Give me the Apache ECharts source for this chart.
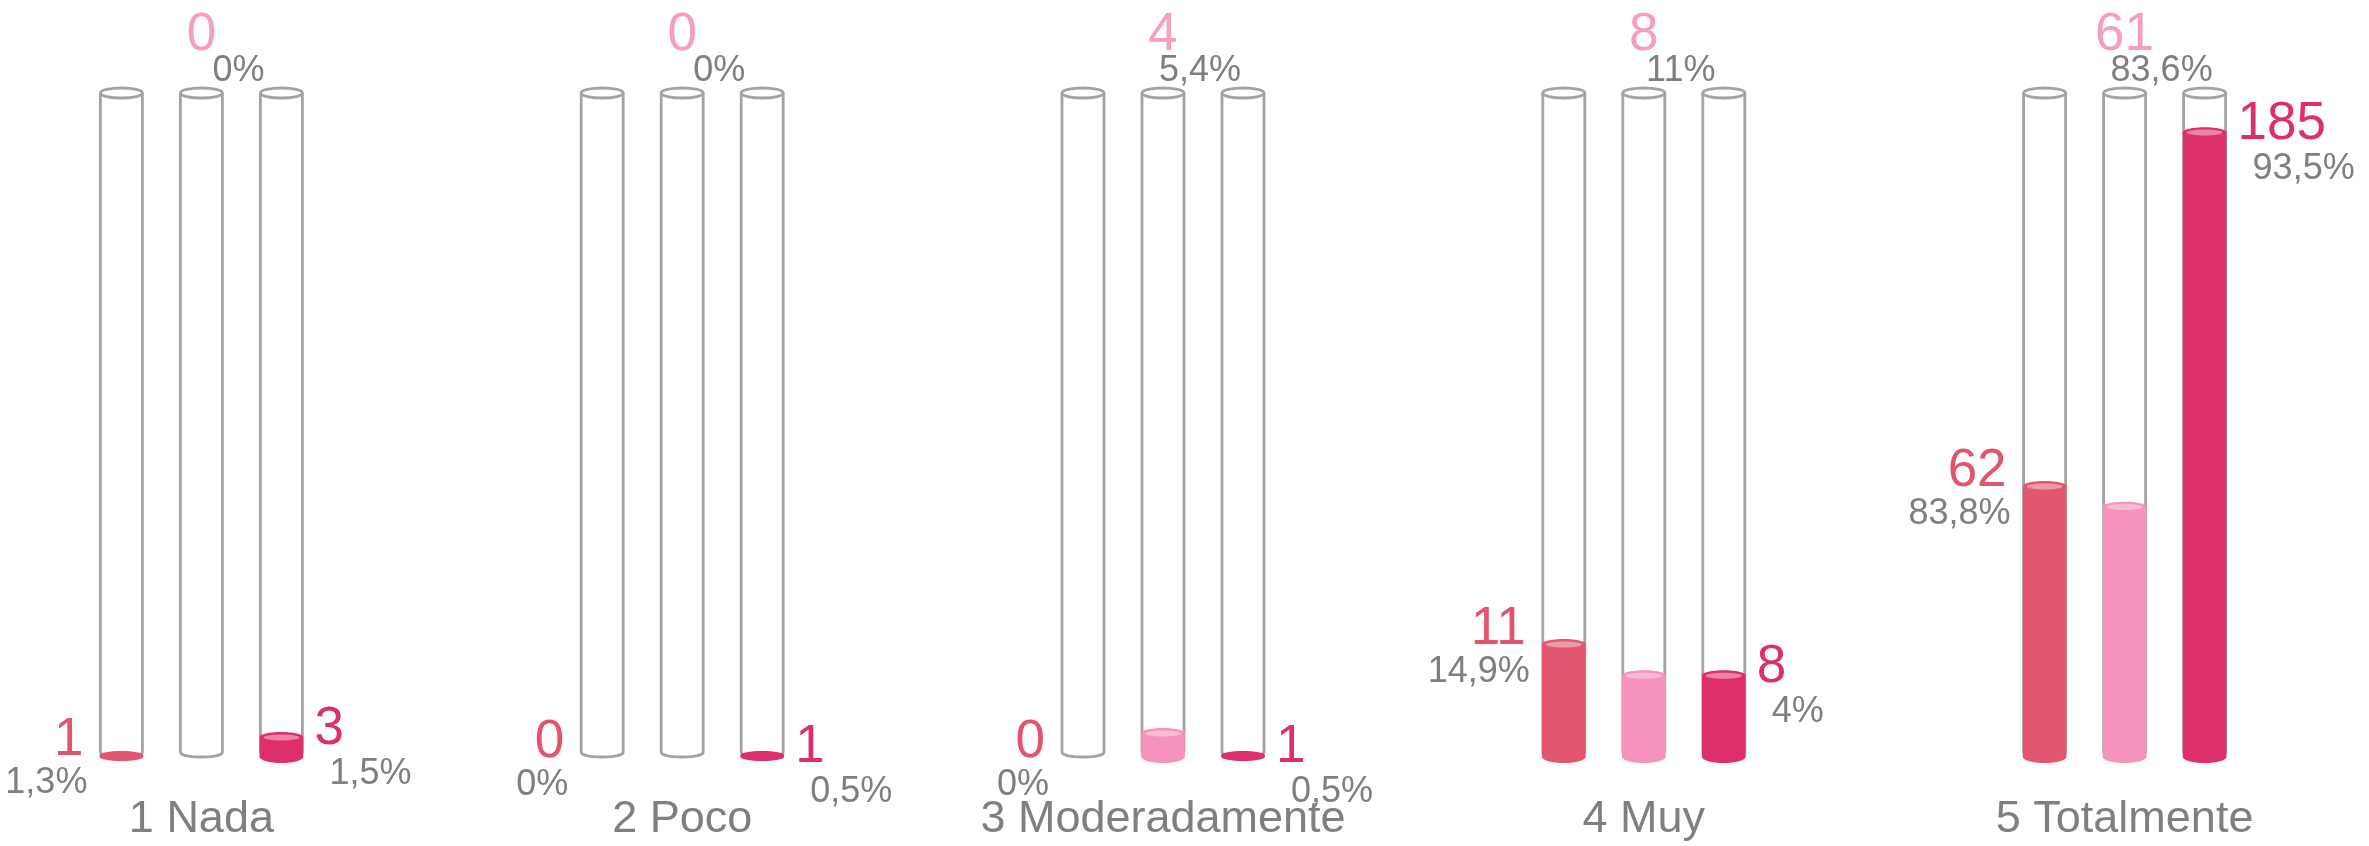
<!DOCTYPE html>
<html><head><meta charset="utf-8">
<script src="https://cdn.jsdelivr.net/npm/echarts@6/dist/echarts.min.js"></script>
<style>html,body{margin:0;padding:0;background:#fff;overflow:hidden}#c{width:2408px;height:846px;margin-left:-39px}</style>
</head><body><div id="c"></div>
<script>
const categories = ['1 Nada', '2 Poco', '3 Moderadamente', '4 Muy', '5 Totalmente'];
// series 1
const countsA = [1, 0, 0, 11, 62];
const pctA = ['1,3%', '0%', '0%', '14,9%', '83,8%'];
const levelA = [0.3, 0, 0, 17.0, 40.8];
// series 2
const countsB = [0, 0, 4, 8, 61];
const pctB = ['0%', '0%', '5,4%', '11%', '83,6%'];
const levelB = [0, 0, 3.6, 12.3, 37.7];
// series 3
const countsC = [3, 1, 1, 8, 185];
const pctC = ['1,5%', '0,5%', '0,5%', '4%', '93,5%'];
const levelC = [3.0, 0.3, 0.3, 12.3, 94.1];
const tubeMax = 100;

const FONT = '"Liberation Sans", Arial, sans-serif';
const GRAY = '#7f7f7f';
const styles = [
  {offset: -80, fill: '#e3566f', cap: '#ee9aa9', label: '#e4536e', side: 'left'},
  {offset: 0,   fill: '#f693bd', cap: '#f9bad4', label: '#f4a0b8', side: 'top'},
  {offset: 80,  fill: '#dd2f6b', cap: '#ec85a5', label: '#de2f6b', side: 'right'}
];
const RX = 21, RY = 5;

function tubeRender(params, api) {
  const i = api.value(0), k = api.value(2);
  const base = api.coord([i, 0]);
  const top = api.coord([i, api.value(1)]);
  const cx = base[0] + styles[k].offset;
  const yb = base[1] - 5, yt = top[1];
  const st = {stroke: '#a3a3a3', lineWidth: 2.8, fill: null};
  return {type: 'group', children: [
    {type: 'line', shape: {x1: cx - RX, y1: yt, x2: cx - RX, y2: yb}, style: st},
    {type: 'line', shape: {x1: cx + RX, y1: yt, x2: cx + RX, y2: yb}, style: st},
    {type: 'ellipse', shape: {cx: cx, cy: yt, rx: RX, ry: RY}, style: {stroke: '#a3a3a3', lineWidth: 2.8, fill: '#fff'}},
    {type: 'bezierCurve', shape: {x1: cx - RX, y1: yb, cpx1: cx - RX, cpy1: yb + RY * 1.333, cpx2: cx + RX, cpy2: yb + RY * 1.333, x2: cx + RX, y2: yb}, style: st}
  ]};
}

function makeFill(k, counts, pcts) {
  const S = styles[k];
  return function (params, api) {
    const i = api.value(0), lvl = api.value(1);
    const base = api.coord([i, 0]);
    const topP = api.coord([i, lvl]);
    const tubeTop = api.coord([i, tubeMax]);
    const cx = base[0] + S.offset;
    const yb = base[1];
    const yt = counts[i] > 0 ? topP[1] : base[1];
    const thin = (yb - yt) < 4;
    const children = [];
    if (counts[i] > 0) {
      children.push(
        {type: 'rect', shape: {x: cx - RX - 0.8, y: yt, width: 2 * RX + 1.6, height: yb - yt}, style: {fill: S.fill}},
        {type: 'ellipse', shape: {cx: cx, cy: yb, rx: RX + 0.8, ry: thin ? RY - 1 : RY + 1}, style: {fill: S.fill}},
        {type: 'ellipse', shape: {cx: cx, cy: yt, rx: RX + 0.8, ry: thin ? RY - 1 : RY}, style: {fill: S.fill}}
      );
      if (!thin) {
        children.push({type: 'ellipse', shape: {cx: cx, cy: yt + 0.3, rx: RX - 3, ry: RY - 2}, style: {fill: S.cap}});
      }
    }
    const big = {fontSize: 53, fontFamily: FONT, fill: S.label, verticalAlign: 'middle'};
    const small = {fontSize: 36, fontFamily: FONT, fill: GRAY, verticalAlign: 'middle'};
    let cPos, pPos;
    if (S.side === 'left') {
      cPos = {x: cx - RX - 17, y: yt - 15, align: 'right'};
      pPos = {x: cx - RX - 13, y: yt + 28, align: 'right'};
    } else if (S.side === 'right') {
      cPos = {x: cx + RX + 12, y: yt - 8, align: 'left'};
      pPos = {x: cx + RX + 27, y: yt + 37, align: 'left'};
    } else {
      cPos = {x: cx, y: tubeTop[1] - 58, align: 'center'};
      pPos = {x: cx + 37, y: tubeTop[1] - 22, align: 'center'};
    }
    children.push(
      {type: 'text', x: cPos.x, y: cPos.y, style: Object.assign({text: String(counts[i]), align: cPos.align}, big)},
      {type: 'text', x: pPos.x, y: pPos.y, style: Object.assign({text: pcts[i], align: pPos.align}, small)}
    );
    return {type: 'group', children: children};
  };
}

const tubeData = [];
categories.forEach((c, i) => { for (let k = 0; k < 3; k++) tubeData.push([i, tubeMax, k]); });

const chart = echarts.init(document.getElementById('c'), null, {renderer: 'canvas'});
chart.setOption({
  animation: false,
  grid: {left: 0, right: 4, top: 93, bottom: 89},
  xAxis: {
    type: 'category', data: categories,
    axisLine: {show: false}, axisTick: {show: false}, splitLine: {show: false},
    axisLabel: {fontSize: 45, fontFamily: FONT, color: GRAY, margin: 40, interval: 0}
  },
  yAxis: {type: 'value', min: 0, max: 100, show: false},
  series: [
    {type: 'custom', renderItem: tubeRender, data: tubeData, encode: {x: 0, y: 1}, z: 1, clip: false},
    {type: 'custom', renderItem: makeFill(0, countsA, pctA), data: levelA.map((v, i) => [i, v]), encode: {x: 0, y: 1}, z: 2, clip: false},
    {type: 'custom', renderItem: makeFill(1, countsB, pctB), data: levelB.map((v, i) => [i, v]), encode: {x: 0, y: 1}, z: 2, clip: false},
    {type: 'custom', renderItem: makeFill(2, countsC, pctC), data: levelC.map((v, i) => [i, v]), encode: {x: 0, y: 1}, z: 2, clip: false}
  ]
});
</script></body></html>
